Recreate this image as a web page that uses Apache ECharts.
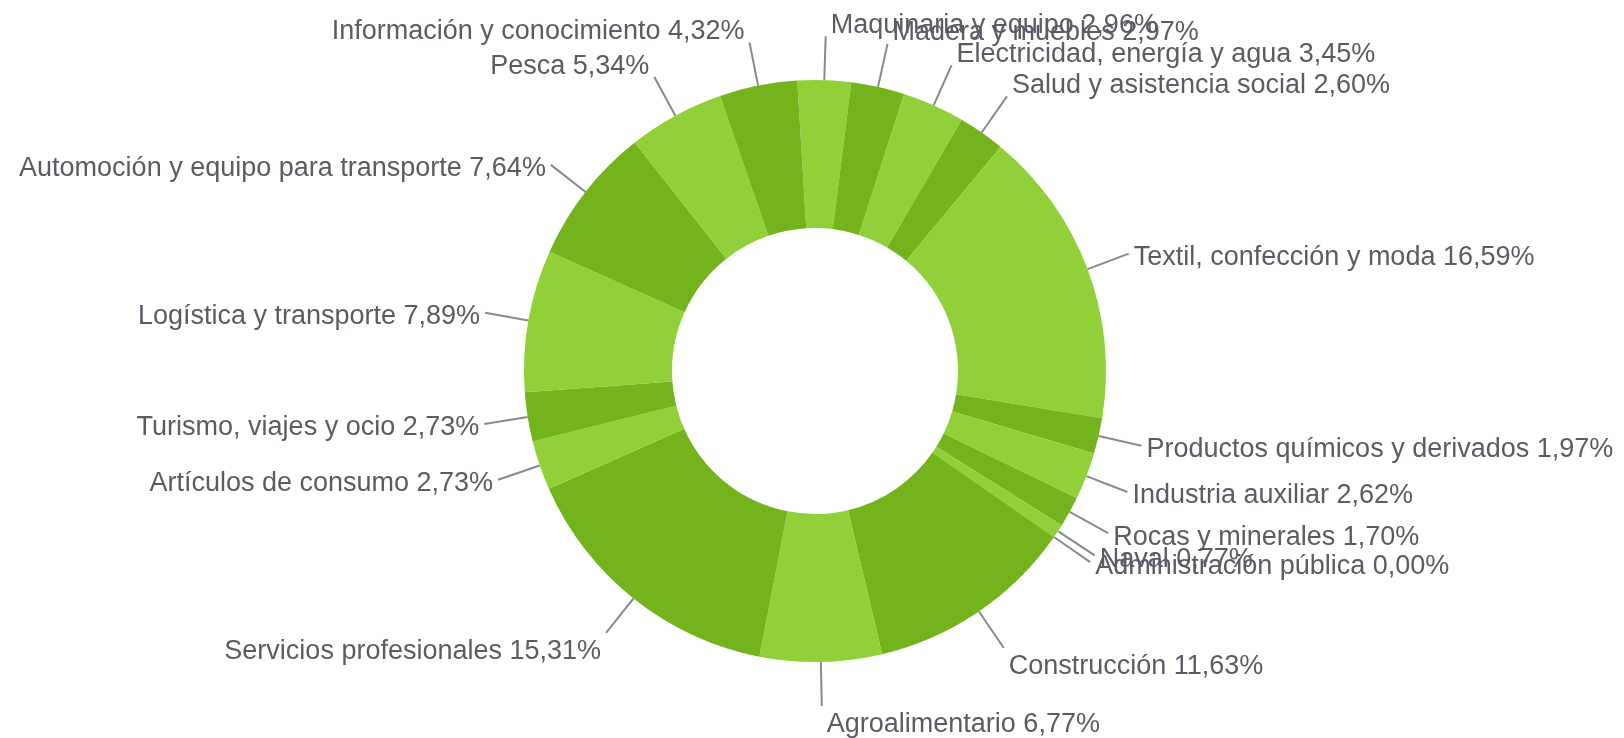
<!DOCTYPE html>
<html>
<head>
<meta charset="utf-8">
<script src="https://cdn.jsdelivr.net/npm/echarts@6/dist/echarts.min.js"></script>
<style>
html,body{margin:0;padding:0;background:#fff;}
#chart{width:1624px;height:738px;}
</style>
</head>
<body>
<div id="chart"></div>
<script>
const categories = [
  'Maquinaria y equipo', 'Madera y muebles', 'Electricidad, energía y agua',
  'Salud y asistencia social', 'Textil, confección y moda', 'Productos químicos y derivados',
  'Industria auxiliar', 'Rocas y minerales', 'Naval', 'Administración pública',
  'Construcción', 'Agroalimentario', 'Servicios profesionales', 'Artículos de consumo',
  'Turismo, viajes y ocio', 'Logística y transporte', 'Automoción y equipo para transporte',
  'Pesca', 'Información y conocimiento'
];
const values = [2.96, 2.97, 3.45, 2.60, 16.59, 1.97, 2.62, 1.70, 0.77, 0.00,
                11.63, 6.77, 15.31, 2.73, 2.73, 7.89, 7.64, 5.34, 4.32];

const colorLight = '#92D03A';
const colorDark = '#73B41C';
const startAngle = 93.5;

const total = values.reduce((a, b) => a + b, 0);
let cum = 0;
let colorIdx = 0;
const data = categories.map((name, i) => {
  const v = values[i];
  const mid = (cum + v / 2) / total * 360 - (startAngle - 90);
  cum += v;
  const c = Math.cos(mid * Math.PI / 180);
  const side = Math.abs(c) > 0.7 ? (c > 0 ? 'up' : 'down') : 'mid';
  const color = colorIdx % 2 === 0 ? colorLight : colorDark;
  if (v > 0) colorIdx++;
  return {
    name: name,
    value: v,
    side: side,
    itemStyle: { color: color }
  };
});

const textStyle = { color: '#5b5b68', fontFamily: 'Liberation Sans', fontSize: 27, lineHeight: 30 };
const gap = h => ({ fontSize: 4, lineHeight: h, color: 'transparent' });

const chart = echarts.init(document.getElementById('chart'), null, { renderer: 'canvas' });
chart.setOption({
  backgroundColor: '#ffffff',
  animation: false,
  series: [{
    type: 'pie',
    center: [815, 371],
    radius: [143, 291],
    startAngle: startAngle,
    clockwise: true,
    avoidLabelOverlap: false,
    stillShowZeroSum: true,
    minShowLabelAngle: 0,
    data: data,
    labelLayout: { hideOverlap: false, moveOverlap: false },
    label: {
      show: true,
      position: 'outside',
      alignTo: 'none',
      overflow: 'none',
      color: '#5b5b68',
      fontFamily: 'Liberation Sans',
      fontSize: 27,
      lineHeight: 30,
      distanceToLabelLine: 5,
      rich: { t: textStyle, gm: gap(8), gu: gap(22), gd: gap(38) },
      formatter: p => {
        const t = '{t|' + p.name + ' ' + p.value.toFixed(2).replace('.', ',') + '%}';
        const side = data[p.dataIndex].side;
        if (side === 'up') return t + '\n{gu| }';
        if (side === 'down') return '{gd| }\n' + t;
        return '{gm| }\n' + t;
      }
    },
    labelLine: {
      show: true,
      length: 44,
      length2: 0,
      smooth: false,
      lineStyle: { color: '#8a8a8a', width: 2 }
    },
    emphasis: { disabled: true }
  }]
});
</script>
</body>
</html>
